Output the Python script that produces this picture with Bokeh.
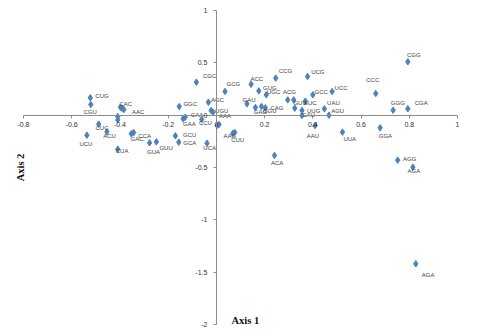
from bokeh.plotting import figure
from bokeh.models import ColumnDataSource, LinearAxis, FixedTicker, Range1d, Label
from bokeh.embed import file_html
from bokeh.resources import INLINE
from bokeh.core.properties import value

# ---- data ----
codons = ["CUG", "CGU", "CAC", "AAC", "", "", "", "UCU", "CUC", "ACU",
          "CUA", "GAC", "CCA", "GUA", "GUU", "GCU", "GCA", "GGC", "GAA", "CAA",
          "CGC", "CCU", "AGC", "UGU", "", "AAA", "", "UCA", "GCG", "AAG",
          "CUU", "GAU", "ACC", "GUG", "UGC", "GAG", "GGU", "CAG", "ACG", "",
          "CCG", "UCG", "GCC", "UCC", "GUC", "AUC", "UUG", "CAU", "UAU", "AGU",
          "AAU", "UUA", "ACA", "CCC", "GGG", "CGA", "CGG", "GGA", "AGG", "AGA",
          "AGA"]
axis1 = [-0.523, -0.521, -0.398, -0.384, -0.391, -0.409, -0.409, -0.537, -0.488, -0.454,
         -0.409, -0.353, -0.343, -0.277, -0.249, -0.170, -0.156, -0.154, -0.138, -0.129,
         -0.083, -0.061, -0.033, -0.022, -0.014, 0.011, 0.003, -0.039, 0.036, 0.068,
         0.076, 0.127, 0.144, 0.176, 0.207, 0.162, 0.187, 0.203, 0.296, 0.321,
         0.246, 0.378, 0.400, 0.480, 0.325, 0.369, 0.355, 0.355, 0.448, 0.467,
         0.409, 0.523, 0.241, 0.661, 0.733, 0.794, 0.794, 0.679, 0.752, 0.815,
         0.827]
axis2 = [0.166, 0.102, 0.076, 0.054, 0.067, -0.013, -0.045, -0.191, -0.086, -0.159,
         -0.325, -0.178, -0.166, -0.264, -0.255, -0.197, -0.258, 0.083, -0.035, -0.019,
         0.315, -0.041, 0.124, 0.045, 0.029, -0.089, -0.099, -0.268, 0.226, -0.175,
         -0.165, 0.108, 0.296, 0.232, 0.194, 0.073, 0.083, 0.070, 0.146, 0.146,
         0.354, 0.369, 0.194, 0.226, 0.067, 0.134, 0.045, -0.003, 0.061, 0.000,
         -0.099, -0.162, -0.385, 0.207, 0.048, 0.061, 0.510, -0.121, -0.430, -0.497,
         -1.420]

x_ticks = [-0.8, -0.6, -0.4, -0.2, 0, 0.2, 0.4, 0.6, 0.8, 1]
x_tick_labels = ["-0.8", "-0.6", "-0.4", "-0.2", "0", "0.2", "0.4", "0.6", "0.8", "1"]
y_ticks = [-2, -1.5, -1, -0.5, 0, 0.5, 1]
y_tick_labels = ["-2", "-1.5", "-1", "-0.5", "0", "0.5", "1"]

# ---- label placement (screen pixel offsets from each point; +dy = down) ----
label_dx = [11.7, -0.7, 5.3, 14.3, 0, 0, 0, -1, 3.3, 2.7,
            4.3, 5.7, 11, 4, 9.7, 14.3, 11, 11, 6.3, 11.7,
            13.3, 3.7, 9, 10.7, 0, 6, 0, 2.7, 8.3, -3,
            3, 2, 5.7, 11, 7.3, 5, 8.3, 11.7, 1.7, 0,
            9.7, 10.3, 8.3, 9, 5.3, 5, 11.7, 6.7, 9, 8.7,
            -2, 7.3, 2.7, -3, 4.7, 13.3, 6, 5.3, 12, 1,
            12.3]
label_dy = [-1.7, 7.3, -3, 2, 0, 0, 0, 8.7, 3.7, 3.7,
            2, 5.3, 3, 8.7, 5.7, -0.3, 1.3, -2.3, 4.7, -1.7,
            -6, 4, -2.3, 1, 0, -8.3, 0, 4.3, -8, 2.3,
            7.7, -4, -4.7, -3.3, -3, 4, 5, -0.3, -8.3, 0,
            -6.7, -5, -3.3, -4, -4.7, 2.3, 1, 0, -5.3, -3.7,
            10, 7.3, 8, -14, -6.7, -5.3, -6.3, 7.7, -0.7, 4.3,
            11.7]

src = ColumnDataSource(dict(x=axis1, y=axis2, t=codons, dx=label_dx, dy=label_dy))

# ranges padded a little beyond the axis bounds so end tick labels are not clipped
p = figure(width=471, height=332, output_backend="svg", toolbar_location=None,
           x_range=Range1d(-0.829, 1.0249), y_range=Range1d(-2.0573, 1.0478),
           x_axis_location=None, y_axis_location=None,
           min_border_left=16, min_border_right=8, min_border_top=5,
           min_border_bottom=2)
p.outline_line_color = None
p.xgrid.visible = False
p.ygrid.visible = False
p.background_fill_color = "white"

axis_color = "#8c8c8c"
xa = LinearAxis(fixed_location=0, ticker=FixedTicker(ticks=x_ticks), bounds=(-0.8, 1))
xa.major_label_overrides = {t: s for t, s in zip(x_ticks, x_tick_labels)}
ya = LinearAxis(fixed_location=0, ticker=FixedTicker(ticks=y_ticks), bounds=(-2, 1))
ya.major_label_overrides = {t: s for t, s in zip(y_ticks, y_tick_labels)}
for ax in (xa, ya):
    ax.axis_line_color = axis_color
    ax.major_tick_line_color = axis_color
    ax.minor_tick_line_color = None
    ax.major_tick_in = 0
    ax.major_tick_out = 3
    ax.major_label_text_font = "Liberation Sans"
    ax.major_label_text_font_size = "7px"
    ax.major_label_text_color = "#333333"
xa.major_label_standoff = 4
ya.major_label_standoff = 6
p.add_layout(xa, "below")
p.add_layout(ya, "left")

p.scatter("x", "y", source=src, marker="diamond", size=6.5,
          fill_color="#4f81bd", line_color="#4f81bd")
p.text("x", "y", text="t", source=src, x_offset="dx", y_offset="dy",
       text_font=value("Liberation Sans"), text_font_size="6px",
       text_color="#404040", text_align="center", text_baseline="middle")

p.add_layout(Label(x=0.12, y=-1.96, text="Axis 1", text_font="Liberation Serif",
                   text_font_style="bold", text_font_size="10.5px",
                   text_align="center", text_baseline="middle", text_color="#111111"))
p.add_layout(Label(x=-0.813, y=-0.5, text="Axis 2", text_font="Liberation Serif",
                   text_font_style="bold", text_font_size="10.5px", angle=1.5708,
                   text_align="center", text_baseline="middle", text_color="#111111"))

open("out.html", "w").write(file_html(p, INLINE))
